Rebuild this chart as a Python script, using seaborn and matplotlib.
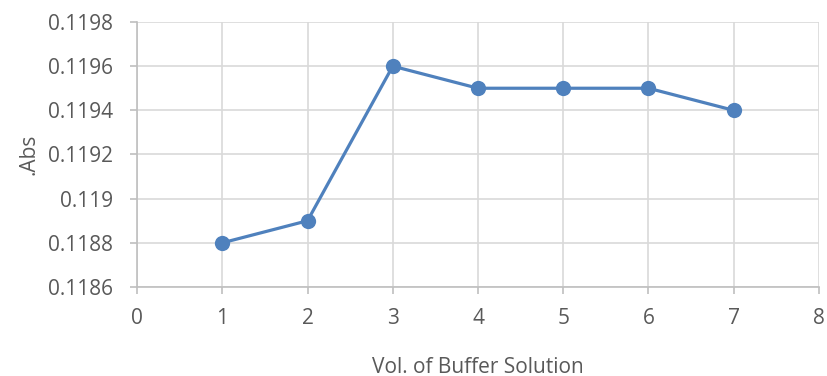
import matplotlib
matplotlib.use('Agg')
import matplotlib.pyplot as plt
import seaborn as sns
import pandas as pd

# Data
buffer_vol = [1, 2, 3, 4, 5, 6, 7]
absorbance = [0.1188, 0.1189, 0.1196, 0.1195, 0.1195, 0.1195, 0.1194]
x_ticks = [0, 1, 2, 3, 4, 5, 6, 7, 8]
y_ticks = [0.1186, 0.1188, 0.119, 0.1192, 0.1194, 0.1196, 0.1198]
y_tick_labels = ['0.1186', '0.1188', '0.119', '0.1192', '0.1194', '0.1196', '0.1198']

df = pd.DataFrame({'vol': buffer_vol, 'abs': absorbance})

sns.set_theme(style='white')
plt.rcParams['font.family'] = ['Open Sans', 'DejaVu Sans']

fig = plt.figure(figsize=(8.27, 3.76), dpi=100)
ax = fig.add_axes([0.1657, 0.2367, 0.9903 - 0.1657, 0.9415 - 0.2367])

sns.lineplot(data=df, x='vol', y='abs', ax=ax, color='#4f81bd', linewidth=2.3,
             marker='o', markersize=11, markeredgewidth=0, zorder=3)

ax.set_xlim(0, 8)
ax.set_ylim(0.1186, 0.1198)
ax.set_xticks(x_ticks)
ax.set_yticks(y_ticks)
ax.set_yticklabels(y_tick_labels)

grid_c = '#d9d9d9'
ax.grid(True, color=grid_c, linewidth=1.2)
ax.set_axisbelow(True)
for side in ['top', 'right']:
    ax.spines[side].set_visible(False)
for side in ['left', 'bottom']:
    ax.spines[side].set_color('#bfbfbf')
    ax.spines[side].set_linewidth(1.2)

ax.tick_params(axis='both', which='major', direction='out', length=5, width=1.2,
               color='#bfbfbf', labelcolor='#595959', labelsize=15, left=True, bottom=True)
ax.tick_params(axis='y', pad=12)
ax.tick_params(axis='x', pad=10)

ax.set_xlabel('Vol. of Buffer Solution', fontsize=15, color='#595959', labelpad=20)
ax.set_ylabel('.Abs', fontsize=15, color='#595959', labelpad=6)

fig.savefig('out.png', dpi=100)
